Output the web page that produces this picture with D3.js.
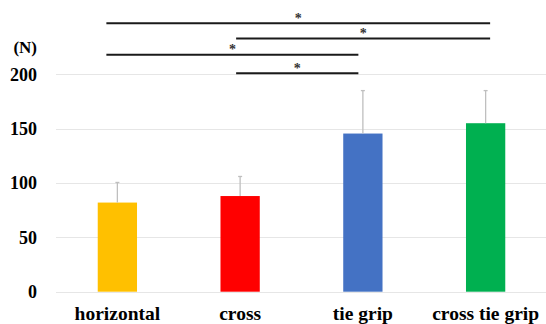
<!DOCTYPE html>
<html><head><meta charset="utf-8">
<script src="https://cdn.jsdelivr.net/npm/d3@7"></script>
<style>body{margin:0;background:#fff}svg{display:block}</style>
</head><body>
<svg id="c" width="546" height="324"></svg>
<script>
const categories = ["horizontal", "cross", "tie grip", "cross tie grip"];
const means = [82, 88, 145.5, 155];
const sds = [18.5, 18, 39.5, 30];
const colors = ["#FFC000", "#FF0000", "#4472C4", "#00B050"];
const yTicks = [0, 50, 100, 150, 200];
const yUnit = "(N)";
// significance comparisons: [from category index, to category index, bracket level (N)]
const compFrom = [0, 1, 0, 1];
const compTo = [3, 3, 2, 2];
const compLevel = [247, 233, 218, 201];
const compLabel = ["*", "*", "*", "*"];

const svg = d3.select("#c");
const x = d3.scaleBand().domain(categories).range([56, 547]).paddingInner(0.68).paddingOuter(0.34);
const y = d3.scaleLinear().domain([0, 200]).range([291.7, 74.3]);
const font = "'Liberation Serif','Times New Roman',serif";

// gridlines
svg.append("g").selectAll("line").data(yTicks).join("line")
  .attr("x1", 56).attr("x2", 546)
  .attr("y1", d => Math.round(y(d)) + 0.5).attr("y2", d => Math.round(y(d)) + 0.5)
  .attr("stroke", "#e6e6e6").attr("stroke-width", 1);

// y tick labels via axis
const yAxis = svg.append("g").attr("transform", "translate(56,0)")
  .call(d3.axisLeft(y).tickValues(yTicks).tickSize(0).tickPadding(19));
yAxis.select(".domain").remove();
yAxis.selectAll("text").attr("font-family", font).attr("font-weight", "bold")
  .attr("font-size", 18).attr("fill", "#000");

svg.append("text").attr("x", 37).attr("y", 52.5).attr("text-anchor", "end")
  .attr("font-family", font).attr("font-weight", "bold").attr("font-size", 17).text(yUnit);

// bars
const idx = d3.range(categories.length);
svg.append("g").selectAll("rect").data(idx).join("rect")
  .attr("x", i => x(categories[i])).attr("width", x.bandwidth())
  .attr("y", i => y(means[i])).attr("height", i => y(0) - y(means[i]))
  .attr("fill", i => colors[i]);

// error bars (upper only)
const cx = i => x(categories[i]) + x.bandwidth() / 2;
const eg = svg.append("g").attr("stroke", "#bfbfbf").attr("stroke-width", 1.3);
eg.selectAll("line.v").data(idx).join("line").attr("class", "v")
  .attr("x1", cx).attr("x2", cx)
  .attr("y1", i => y(means[i])).attr("y2", i => y(means[i] + sds[i]));
eg.selectAll("line.c").data(idx).join("line").attr("class", "c")
  .attr("x1", i => cx(i) - 2).attr("x2", i => cx(i) + 2)
  .attr("y1", i => y(means[i] + sds[i])).attr("y2", i => y(means[i] + sds[i]));

// x labels
const xAxis = svg.append("g").attr("transform", `translate(0,${y(0)})`)
  .call(d3.axisBottom(x).tickSize(0).tickPadding(14));
xAxis.select(".domain").remove();
xAxis.selectAll("text").attr("font-family", font).attr("font-weight", "bold")
  .attr("font-size", 19.5).attr("fill", "#000");

// significance brackets
const comps = d3.range(compFrom.length);
const sx1 = k => cx(compFrom[k]) - (compFrom[k] === 0 ? 11 : 4);
const sx2 = k => cx(compTo[k]) + (compTo[k] === 3 ? 4.5 : -4.5);
const sg = svg.append("g");
sg.selectAll("line").data(comps).join("line")
  .attr("x1", sx1).attr("x2", sx2)
  .attr("y1", k => y(compLevel[k])).attr("y2", k => y(compLevel[k]))
  .attr("stroke", "#1a1a1a").attr("stroke-width", 2);
sg.selectAll("text").data(comps).join("text")
  .attr("x", k => (sx1(k) + sx2(k)) / 2).attr("y", k => y(compLevel[k]) - 0.5)
  .attr("text-anchor", "middle").attr("font-family", font).attr("font-size", 14)
  .attr("font-weight", "bold").attr("fill", "#333").text(k => compLabel[k]);
</script>
</body></html>
